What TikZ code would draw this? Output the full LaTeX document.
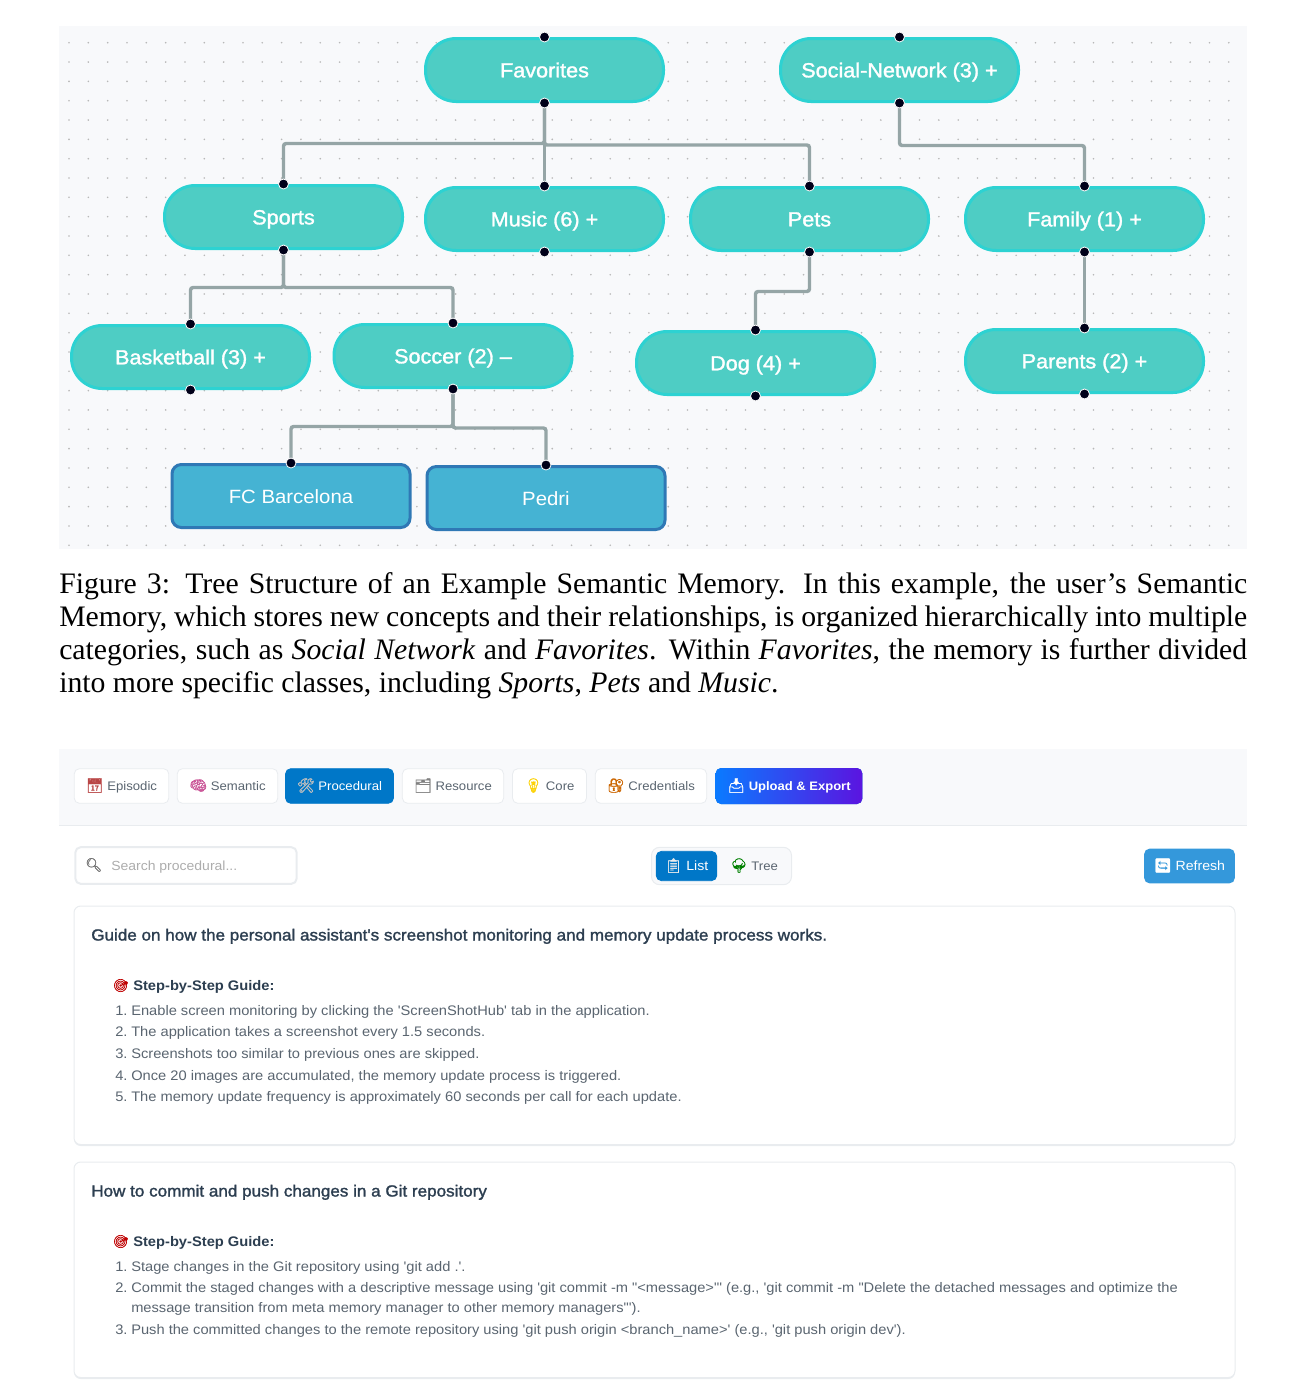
\documentclass[tikz,border=0pt]{standalone}
\usepackage{fontspec}
\usepackage{xcolor}
\usetikzlibrary{calc,positioning}
\newfontfamily\uifont{Liberation Sans}[FakeStretch=1.06]
\newfontfamily\treefont{Liberation Sans}[FakeStretch=1.06,FakeBold=1.5]
\newfontfamily\capfont{Liberation Serif}
\newfontfamily\emojifont{Noto Emoji}[FakeBold=1.2]
\definecolor{teal1}{HTML}{4ECDC4}
\definecolor{teal2}{HTML}{2DD2D2}
\definecolor{blue1}{HTML}{45B3D3}
\definecolor{blue2}{HTML}{2F78B5}
\definecolor{edgegray}{HTML}{95A5A6}
\definecolor{panel}{HTML}{F8F9FB}
\definecolor{hair}{HTML}{E9ECEF}
\definecolor{active}{HTML}{0077C8}
\definecolor{refreshblue}{HTML}{3498DB}
\definecolor{inktext}{HTML}{2C3E50}
\definecolor{softtext}{HTML}{5A6570}
\definecolor{gradleft}{HTML}{0A7AFF}
\definecolor{gradright}{HTML}{5B14E0}
\newcommand{\emo}[2]{{\emojifont\fontsize{10.5}{12}\selectfont\textcolor{#1}{#2}}}
\begin{document}
\begin{tikzpicture}[x=0.75pt,y=-0.75pt,
    pill/.style={draw=teal2,line width=2.25pt,fill=teal1,rounded corners=23pt,minimum width=178.5pt,minimum height=47.25pt,
        inner sep=0pt,text=white,font=\treefont\fontsize{15.3}{18}\selectfont,text height=13pt,text depth=2pt},
    leaf/.style={draw=blue2,line width=2.25pt,fill=blue1,rounded corners=7pt,minimum width=178.5pt,minimum height=47.25pt,
        inner sep=0pt,text=white,font=\uifont\fontsize{14.4}{18}\selectfont,text height=13.5pt,text depth=2pt},
    edge/.style={draw=edgegray,line width=2.6pt,rounded corners=2pt},
    handle/.style={fill=black!90!blue,draw=white,line width=0.6pt},
    griddot/.style={fill=black!28},
    tab/.style={draw=hair,line width=0.6pt,fill=white,rounded corners=4pt,minimum height=26pt,inner sep=0pt,
        text=softtext,font=\uifont\fontsize{9.3}{12}\selectfont,text height=8.5pt,text depth=2pt},
    tabon/.style={tab,draw=active,fill=active,text=white},
    card/.style={draw=hair,line width=0.75pt,fill=white,rounded corners=5pt},
    cardtitle/.style={anchor=base west,inner sep=0pt,text=inktext,font=\treefont\fontsize{12.08}{14}\selectfont},
    guide/.style={anchor=base west,inner sep=0pt,text=inktext,font=\uifont\bfseries\fontsize{10.4}{12}\selectfont},
    stepline/.style={anchor=base west,inner sep=0pt,text=softtext,font=\uifont\fontsize{10.38}{12}\selectfont}]
    \useasboundingbox (0,0) rectangle (1305,1390);

    % tree panel
    \fill[panel] (59,26) rectangle (1247,549);
    \foreach \i in {0,...,60}
        \foreach \j in {0,...,26}
            \fill[griddot] (69+\i*19.33,42.7+\j*19.33) circle (0.9);

    \node[pill] (fav) at (544.5,70) {Favorites};
    \node[pill] (social) at (899.5,70) {Social-Network (3) +};
    \node[pill] (sports) at (283.5,217) {Sports};
    \node[pill] (music) at (544.5,219) {Music (6) +};
    \node[pill] (pets) at (809.5,219) {Pets};
    \node[pill] (family) at (1084.5,219) {Family (1) +};
    \node[pill] (basket) at (190.5,357) {Basketball (3) +};
    \node[pill] (soccer) at (453,356) {Soccer (2) –};
    \node[pill] (dog) at (755.5,363) {Dog (4) +};
    \node[pill] (parents) at (1084.5,361) {Parents (2) +};
    \node[leaf] (barca) at (291,496) {FC Barcelona};
    \node[leaf] (pedri) at (546,498) {Pedri};

    \draw[edge] (fav.south) -- ++(0,40.5) -| (sports.north);
    \draw[edge] (fav.south) -- (music.north);
    \draw[edge] (fav.south) -- ++(0,42) -| (pets.north);
    \draw[edge] (social.south) -- ++(0,42.5) -| (family.north);
    \draw[edge] (sports.south) -- ++(0,37.5) -| (basket.north);
    \draw[edge] (sports.south) -- ++(0,37.5) -| (soccer.north);
    \draw[edge] (pets.south) -- ++(0,39.5) -| (dog.north);
    \draw[edge] (family.south) -- (parents.north);
    \draw[edge] (soccer.south) -- ++(0,37.5) -| (barca.north);
    \draw[edge] (soccer.south) -- ++(0,39) -| (pedri.north);

    \foreach \n in {fav,social,sports,music,pets,family,basket,soccer,dog,parents} {
        \filldraw[handle] (\n.north) circle (5);
        \filldraw[handle] (\n.south) circle (5);
    }
    \filldraw[handle] (barca.north) circle (5);
    \filldraw[handle] (pedri.north) circle (5);

    % caption
    \node[anchor=north west,inner sep=0pt,text width=891pt,align=justify,font=\capfont\fontsize{22.3}{24.6}\selectfont] (caption) at (59,572.5) {%
        Figure 3: Tree Structure of an Example Semantic Memory. In this example, the user’s Semantic\linebreak
        Memory, which stores new concepts and their relationships, is organized hierarchically into multiple\linebreak
        categories, such as \textit{Social Network} and \textit{Favorites}. Within \textit{Favorites}, the memory is further divided\linebreak
        into more specific classes, including \textit{Sports}, \textit{Pets} and \textit{Music}.};

    % tab bar
    \fill[panel] (59,749) rectangle (1247,825);
    \draw[hair,line width=0.75pt] (59,825) -- (1247,825);
    \node[tab,minimum width=71pt] (episodic) at (121.5,786) {\emo{red!45!gray}{📅}\ Episodic};
    \node[tab,minimum width=75.5pt] (semantic) at (227.5,786) {\emo{magenta!60!gray}{🧠}\ Semantic};
    \node[tabon,minimum width=81pt] (procedural) at (339.5,786) {\emo{black!25}{🛠}\ Procedural};
    \node[tab,minimum width=76pt] (resource) at (453,786) {\emo{gray}{🗂}\ Resource};
    \node[tab,minimum width=55.5pt] (core) at (549.5,786) {\emo{yellow!70!orange}{💡}\ Core};
    \node[tab,minimum width=83.5pt] (cred) at (651,786) {\emo{orange!80!black}{🔐}\ Credentials};
    \node[tabon,minimum width=110pt,minimum height=27pt,draw=none,left color=gradleft,right color=gradright,font=\uifont\bfseries\fontsize{9.2}{12}\selectfont] (upload) at (789,786) {\emo{white}{📥}\ Upload \& Export};

    % search and buttons
    \node[draw=hair,line width=1.5pt,fill=white,rounded corners=4pt,minimum width=166pt,minimum height=27.5pt] (search) at (186,865.5) {};
    \node[anchor=base west,inner sep=0pt,text=black!55,font=\fontsize{10}{12}\selectfont] (glass) at (85,869.5) {\emojifont 🔍};
    \node[anchor=base west,inner sep=0pt,text=black!32,font=\uifont\fontsize{9.9}{12}\selectfont] (placeholder) at (111,870) {Search procedural...};
    \node[draw=hair,line width=0.75pt,fill=panel,rounded corners=6pt,minimum width=105pt,minimum height=28pt] (toggle) at (721.5,866) {};
    \node[tabon,minimum width=45.5pt,minimum height=22pt,font=\uifont\fontsize{10}{12}\selectfont] (list) at (686.5,866) {\emo{white!85!gray}{📋}\ List};
    \node[inner sep=0pt,text=softtext,font=\uifont\fontsize{9.3}{12}\selectfont,text height=8.5pt,text depth=2pt] (tree) at (754,866) {\emo{green!50!black}{🌳}\ Tree};
    \node[tabon,draw=none,fill=refreshblue,minimum width=68pt,minimum height=26pt,font=\uifont\fontsize{10}{12}\selectfont] (refresh) at (1189.5,866) {\emo{white}{🔄}\ Refresh};

    % first card
    \fill[hair,rounded corners=5pt] (74,908) rectangle (1235,1146);
    \filldraw[card] (74,906) rectangle (1235,1144.5);
    \node[cardtitle] (title1) at (91,940.5) {Guide on how the personal assistant's screenshot monitoring and memory update process works.};
    \node[inner sep=0pt,font=\fontsize{9.5}{12}\selectfont,text=red!75!black] (target1) at (121,985.5) {\emojifont 🎯};
    \node[guide] (guide1) at (133,990) {Step-by-Step Guide:};
    \foreach \y/\num/\txt in {
        1015/1/{Enable screen monitoring by clicking the 'ScreenShotHub' tab in the application.},
        1036.5/2/{The application takes a screenshot every 1.5 seconds.},
        1058/3/{Screenshots too similar to previous ones are skipped.},
        1080/4/{Once 20 images are accumulated, the memory update process is triggered.},
        1101.5/5/{The memory update frequency is approximately 60 seconds per call for each update.}} {
        \node[stepline] (num1-\num) at (115,\y) {\num.};
        \node[stepline] (step1-\num) at (131,\y) {\txt};
    }

    % second card
    \fill[hair,rounded corners=5pt] (74,1164) rectangle (1235,1379);
    \filldraw[card] (74,1162) rectangle (1235,1377.5);
    \node[cardtitle] (title2) at (91,1196.5) {How to commit and push changes in a Git repository};
    \node[inner sep=0pt,font=\fontsize{9.5}{12}\selectfont,text=red!75!black] (target2) at (121,1241.5) {\emojifont 🎯};
    \node[guide] (guide2) at (133,1246) {Step-by-Step Guide:};
    \node[stepline] (num2-1) at (115,1271) {1.};
    \node[stepline] (step2-1) at (131,1271) {Stage changes in the Git repository using 'git add .'.};
    \node[stepline] (num2-2) at (115,1292.5) {2.};
    \node[stepline] (step2-2) at (131,1292.5) {Commit the staged changes with a descriptive message using 'git commit -m "<message>"' (e.g., 'git commit -m "Delete the detached messages and optimize the};
    \node[stepline] (step2-2b) at (131,1312) {message transition from meta memory manager to other memory managers"').};
    \node[stepline] (num2-3) at (115,1334) {3.};
    \node[stepline] (step2-3) at (131,1334) {Push the committed changes to the remote repository using 'git push origin <branch\_name>' (e.g., 'git push origin dev').};
\end{tikzpicture}
\end{document}
